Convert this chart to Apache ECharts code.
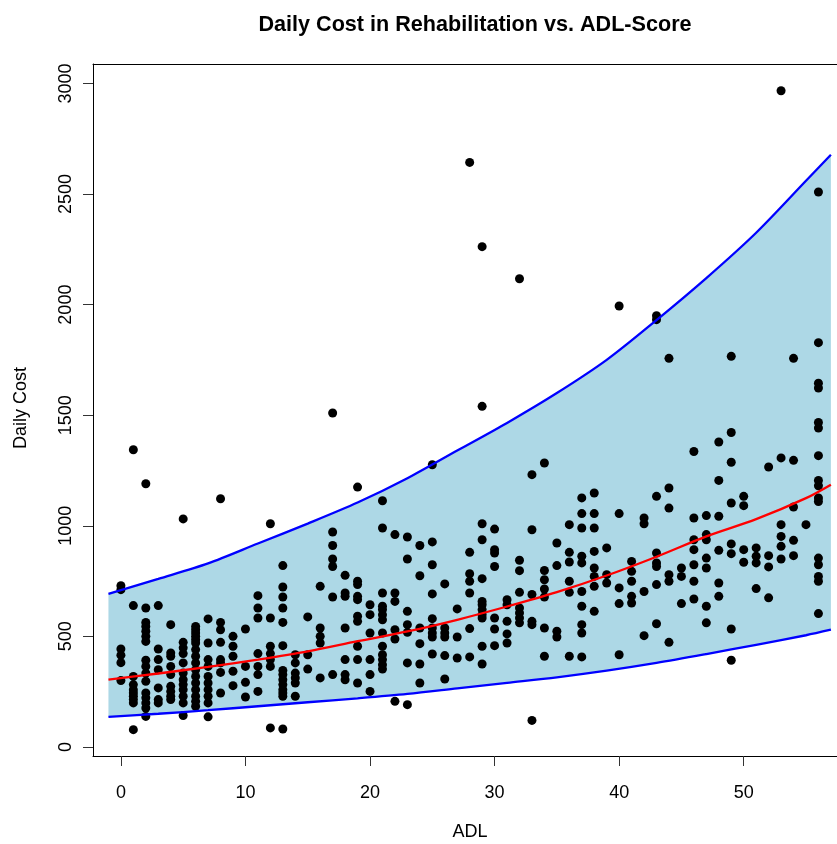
<!DOCTYPE html>
<html><head><meta charset="utf-8">
<script src="https://cdn.jsdelivr.net/npm/echarts@6/dist/echarts.min.js"></script>
<style>html,body{margin:0;padding:0;background:#fff}#c{width:837px;height:844px}</style>
</head><body><div id="c"></div>
<script>
// ---- data ----
const titleText = 'Daily Cost in Rehabilitation vs. ADL-Score';
const xName = 'ADL';
const yName = 'Daily Cost';
const xTicks = [0, 10, 20, 30, 40, 50];
const yTicks = [0, 500, 1000, 1500, 2000, 2500, 3000];

// ADL score of each group of points (index i) and the daily costs at that score
const pointAdl = [0,1,2,3,4,5,6,7,8,9,10,11,12,13,14,15,16,17,18,19,20,21,22,23,24,25,26,27,28,29,30,31,32,33,34,35,36,37,38,39,40,41,42,43,44,45,46,47,48,49,50,51,52,53,54,55,56];
const pointCost = [
  [729,711,443,415,381,300],
  [1344,639,319,282,259,244,229,214,199,78],
  [1190,628,563,545,523,500,477,392,364,334,297,244,222,199,176,138],
  [639,443,395,349,267,214,199],
  [553,425,410,364,327,274,251,229,214],
  [1031,473,448,422,380,334,304,282,259,229,199,142],
  [545,530,515,500,485,470,440,410,380,349,319,289,259,229,206,184],
  [579,470,395,364,319,289,259,229,199,136],
  [1122,563,530,473,395,380,337,244],
  [500,455,410,342,277],
  [533,364,292,226],
  [684,628,583,422,364,327,251],
  [1009,583,455,422,395,364,86],
  [820,723,678,628,563,458,346,327,304,282,259,244,229,81],
  [417,380,334,312,289,229],
  [588,417,352],
  [726,538,500,470,312],
  [1510,972,911,850,816,678,327],
  [776,696,681,538,395,327,304],
  [1175,749,734,681,666,591,568,455,395,289],
  [643,598,515,395,327,251],
  [1113,990,696,636,621,598,575,515,455,417,395,372,352],
  [960,696,658,530,488,206],
  [949,850,613,553,518,380,191],
  [911,774,538,467,375,289],
  [1276,927,824,692,580,538,515,497,420],
  [737,538,515,497,413,307],
  [624,497,402],
  [2643,880,783,749,696,535,407],
  [2262,1540,1009,937,761,658,643,621,598,583,455,375],
  [985,892,877,816,583,533,458],
  [666,643,568,511,470],
  [2117,844,797,699,628,606,583,561],
  [1231,982,689,568,553,120],
  [1284,798,756,714,678,538,410],
  [922,820,523,497],
  [1005,880,836,749,699,410],
  [1126,1055,990,862,832,703,636,553,515,407],
  [1148,1055,990,884,809,771,726,613],
  [900,779,741],
  [1994,1055,719,648,417],
  [839,794,749,681,651],
  [1035,1009,703,503],
  [1950,1932,1133,877,832,816,734,557],
  [1757,1171,1080,779,749,473],
  [809,771,648],
  [1336,1035,937,892,824,749,669],
  [1046,960,937,854,809,636,561],
  [1379,1205,1043,889,741,681],
  [1766,1422,1287,1103,918,874,533,392],
  [1133,1091,892,835],
  [900,862,832,716],
  [1266,865,814,674],
  [2967,1307,1005,952,907,850],
  [1757,1296,1085,934,865],
  [1005],
  [2509,1828,1645,1623,1467,1442,1317,1205,1181,1126,1110,854,824,771,749,603]
];

// prediction band and fitted curve, read at these ADL values
const bandAdl   = [-1, 3, 7, 11, 15, 19, 23, 27, 31, 35, 39, 43, 47, 51, 55, 57];
const bandUpper = [692, 760, 830, 920, 1010, 1105, 1215, 1340, 1465, 1600, 1750, 1930, 2120, 2325, 2560, 2678];
const bandFit   = [304, 332, 362, 395, 432, 478, 522, 575, 635, 700, 775, 860, 952, 1030, 1125, 1186];
const bandLower = [136, 150, 166, 184, 202, 220, 240, 265, 290, 315, 345, 380, 420, 462, 505, 530];

// ---- build chart ----
const scatterData = [];
pointAdl.forEach((a, i) => pointCost[i].forEach(c => scatterData.push([a, c])));
const pair = ys => bandAdl.map((x, i) => [x, ys[i]]);

const FONT = '"Liberation Sans", Arial, Helvetica, sans-serif';
const XMIN = -2.24, XMAX = 57.49, YMIN = -41, YMAX = 3088;
const chart = echarts.init(document.getElementById('c'), null, {renderer: 'canvas'});
chart.setOption({
  backgroundColor: '#fff',
  animation: false,
  title: {
    text: titleText, left: 470, top: 9, textAlign: 'center',
    textStyle: {fontFamily: FONT, fontSize: 21.6, fontWeight: 'bold', color: '#000'}
  },
  grid: {left: 93, top: 64, right: 0, bottom: 88, show: false},
  xAxis: [{
    type: 'value', min: XMIN, max: XMAX, position: 'bottom',
    axisLine: {show: true, onZero: false, lineStyle: {color: '#000', width: 1}},
    splitLine: {show: false},
    axisTick: {show: true, length: 10, customValues: xTicks, lineStyle: {color: '#333', width: 1}},
    axisLabel: {customValues: xTicks, margin: 28, fontFamily: FONT, fontSize: 18, color: '#000', formatter: v => String(v)}
  }, {
    type: 'value', min: XMIN, max: XMAX, position: 'top',
    axisLine: {show: true, onZero: false, lineStyle: {color: '#000', width: 1}},
    splitLine: {show: false}, axisTick: {show: false}, axisLabel: {show: false}
  }],
  yAxis: {
    type: 'value', min: YMIN, max: YMAX,
    axisLine: {show: true, onZero: false, lineStyle: {color: '#000', width: 1}},
    splitLine: {show: false},
    axisTick: {show: true, length: 10, customValues: yTicks, lineStyle: {color: '#333', width: 1}},
    axisLabel: {customValues: yTicks, rotate: 90, margin: 18, fontFamily: FONT, fontSize: 18, color: '#000', formatter: v => String(v)}
  },
  graphic: [
    {type: 'text', x: 470, y: 832, style: {text: xName, x: 0, y: 0, align: 'center', verticalAlign: 'middle', font: '18px ' + FONT, fill: '#000'}},
    {type: 'text', x: 21, y: 408, rotation: Math.PI / 2, style: {text: yName, x: 0, y: 0, align: 'center', verticalAlign: 'middle', font: '18px ' + FONT, fill: '#000'}}
  ],
  series: [
    {
      type: 'custom', silent: true, z: 1, clip: true,
      data: [[0, 0]],
      renderItem: function (params, api) {
        const pts = [];
        for (let i = 0; i < bandAdl.length; i++) pts.push(api.coord([bandAdl[i], bandUpper[i]]));
        for (let i = bandAdl.length - 1; i >= 0; i--) pts.push(api.coord([bandAdl[i], bandLower[i]]));
        return {type: 'polygon', shape: {points: pts}, style: {fill: '#ADD8E6', stroke: null}};
      }
    },
    {type: 'scatter', z: 2, data: scatterData, symbol: 'circle', symbolSize: 9, itemStyle: {color: '#000', opacity: 1}},
    {type: 'line', z: 3, data: pair(bandUpper), showSymbol: false, smooth: 0.3, lineStyle: {color: '#0000FF', width: 2.3}},
    {type: 'line', z: 3, data: pair(bandLower), showSymbol: false, smooth: 0.3, lineStyle: {color: '#0000FF', width: 2.3}},
    {type: 'line', z: 3, data: pair(bandFit), showSymbol: false, smooth: 0.3, lineStyle: {color: '#FF0000', width: 2.3}}
  ]
});
</script>
</body></html>
